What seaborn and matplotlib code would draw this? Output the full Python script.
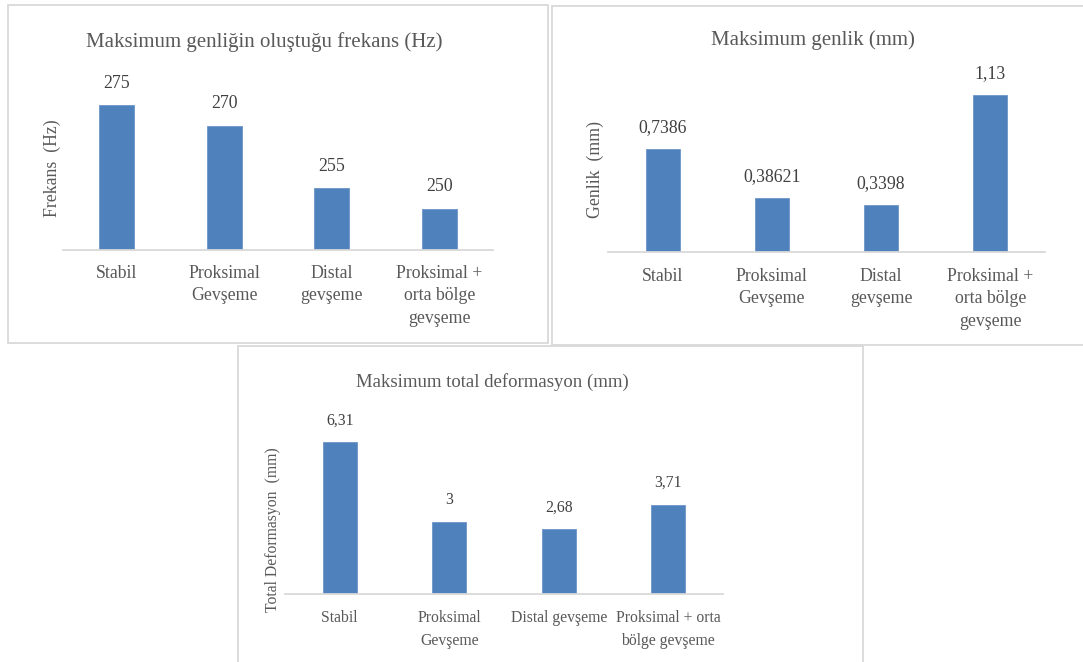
import matplotlib
matplotlib.use("Agg")
import matplotlib.pyplot as plt
import seaborn as sns
from matplotlib.patches import Rectangle

# ---------------- data ----------------
freq_categories = ["Stabil", "Proksimal\nGevşeme", "Distal\ngevşeme",
                   "Proksimal +\norta bölge\ngevşeme"]
freq_values = [275, 270, 255, 250]

amp_categories = ["Stabil", "Proksimal\nGevşeme", "Distal\ngevşeme",
                  "Proksimal +\norta bölge\ngevşeme"]
amp_values = [0.7386, 0.38621, 0.3398, 1.13]

def_categories = ["Stabil", "Proksimal\nGevşeme", "Distal gevşeme",
                  "Proksimal + orta\nbölge gevşeme"]
def_values = [6.31, 3, 2.68, 3.71]

titles = ["Maksimum genliğin oluştuğu frekans (Hz)",
          "Maksimum genlik (mm)",
          "Maksimum total deformasyon (mm)"]
ylabels = ["Frekans  (Hz)", "Genlik  (mm)", "Total Deformasyon  (mm)"]

# ---------------- style ----------------
W, H, DPI = 1083, 662, 100
BAR = "#4F81BD"
TEXT = "#595959"
LABEL = "#404040"
BORDER = "#d9d9d9"

sns.set_theme(style="white")
plt.rcParams['font.family'] = ['Liberation Serif', 'DejaVu Serif']

fig = plt.figure(figsize=(W / DPI, H / DPI), dpi=DPI)
fig.patch.set_facecolor("white")


def fx(x):
    return x / W


def fy(y):
    return 1 - y / H


def box(x0, y0, x1, y1):
    fig.patches.append(Rectangle((fx(x0), fy(y1)), (x1 - x0) / W, (y1 - y0) / H,
                                 transform=fig.transFigure, fill=False,
                                 edgecolor=BORDER, linewidth=1.3, zorder=0))


def fmt(v):
    return f"{v:g}".replace(".", ",")


def draw(rect, cats, vals, ylim, width, label_fs, pad, title, title_xy, title_fs,
         ylabel, ylabel_xy, offset, linespacing):
    x0, y0, x1, y1 = rect
    ax = fig.add_axes([fx(x0), fy(y1), (x1 - x0) / W, (y1 - y0) / H])
    ax.set_facecolor("none")
    sns.barplot(x=list(range(len(cats))), y=vals, color=BAR, saturation=1,
                width=width, ax=ax, edgecolor="#6d96c8", linewidth=0.6)
    ax.set_xlim(-0.5, len(cats) - 0.5)
    ax.set_ylim(*ylim)
    for s in ["top", "right", "left"]:
        ax.spines[s].set_visible(False)
    ax.spines["bottom"].set_color(BORDER)
    ax.spines["bottom"].set_linewidth(1.3)
    ax.set_yticks([])
    ax.set_xticks(range(len(cats)))
    ax.set_xticklabels(cats, linespacing=linespacing)
    ax.tick_params(axis="x", length=0, pad=pad, labelsize=label_fs, labelcolor=TEXT)
    ax.set_xlabel("")
    ax.set_ylabel("")
    for p, v in zip(ax.patches, vals):
        ax.annotate(fmt(v), (p.get_x() + p.get_width() / 2, v),
                    xytext=(0, offset), textcoords="offset points",
                    ha="center", va="center", fontsize=label_fs, color=LABEL)
    fig.text(fx(title_xy[0]), fy(title_xy[1]), title, ha="center", va="center",
             fontsize=title_fs, color=TEXT)
    fig.text(fx(ylabel_xy[0]), fy(ylabel_xy[1]), ylabel, ha="center", va="center",
             rotation=90, fontsize=label_fs, color=TEXT)
    return ax


# chart borders
box(8, 5, 548, 343)
box(552, 6, 1095, 345)
box(238, 346, 863, 675)

draw((63, 84, 493, 250), freq_categories, freq_values, (240, 280), 0.33, 12.8, 11,
     titles[0], (264, 42), 15, ylabels[0], (52, 168), 15.5, 1.4)
draw((608, 85, 1045, 252.3), amp_categories, amp_values, (0, 1.2), 0.31, 12.8, 11.5,
     titles[1], (813, 40), 15, ylabels[1], (595, 170), 15.5, 1.4)
draw((285, 425, 723, 594.3), def_categories, def_values, (0, 7), 0.315, 11.3, 11.5,
     titles[2], (492, 382), 13.5, ylabels[2], (273, 530), 15.5, 1.6)

fig.savefig("out.png", dpi=DPI)
